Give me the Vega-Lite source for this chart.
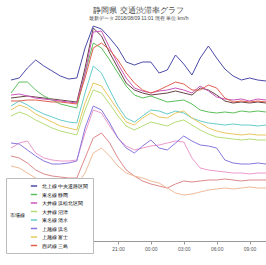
{
  "$schema": "https://vega.github.io/schema/vega-lite/v6.json",
  "width": 255,
  "height": 215,
  "padding": {"left": 5, "top": 6, "right": 6, "bottom": 2},
  "config": {"view": {"stroke": null}},
  "title": {
    "text": "静岡県 交通渋滞率グラフ",
    "subtitle": "最新データ 2018/08/09 11:01 現在 単位:km/h",
    "fontSize": 7.5,
    "fontWeight": "normal",
    "subtitleFontSize": 5,
    "subtitlePadding": 2,
    "color": "#444",
    "subtitleColor": "#444",
    "anchor": "middle",
    "offset": 3
  },
  "data": {"values": [
    {"t": "2018-08-08T11:15", "北上線 中央道路区間": 161, "国道1号 島田": 143, "大井線 浜松北区間": 146, "西武線 三島": 140, "東名線 静岡": 148, "大井線 沼津": 125, "東名線 清水": 135, "上越線 富士": 131, "上越線 浜名": 98, "国道1号 掛川": 93, "国道150号 焼津": 85, "国道150号 磐田": 75},
    {"t": "2018-08-08T12:00", "北上線 中央道路区間": 163, "国道1号 島田": 144, "大井線 浜松北区間": 147, "西武線 三島": 140, "東名線 静岡": 159, "大井線 沼津": 129, "東名線 清水": 140, "上越線 富士": 136, "上越線 浜名": 97, "国道1号 掛川": 98, "国道150号 焼津": 83, "国道150号 磐田": 73},
    {"t": "2018-08-08T12:45", "北上線 中央道路区間": 173, "国道1号 島田": 145, "大井線 浜松北区間": 145, "西武線 三島": 141, "東名線 静岡": 159, "大井線 沼津": 126, "東名線 清水": 136, "上越線 富士": 133, "上越線 浜名": 91, "国道1号 掛川": 100, "国道150号 焼津": 78, "国道150号 磐田": 68},
    {"t": "2018-08-08T13:30", "北上線 中央道路区間": 181, "国道1号 島田": 144, "大井線 浜松北区間": 143, "西武線 三島": 141, "東名線 静岡": 151, "大井線 沼津": 121, "東名線 清水": 131, "上越線 富士": 127, "上越線 浜名": 85, "国道1号 掛川": 88, "国道150号 焼津": 71, "国道150号 磐田": 63},
    {"t": "2018-08-08T14:15", "北上線 中央道路区間": 175, "国道1号 島田": 143, "大井線 浜松北区間": 142, "西武線 三島": 140, "東名線 静岡": 145, "大井線 沼津": 117, "東名線 清水": 127, "上越線 富士": 123, "上越線 浜名": 80, "国道1号 掛川": 83, "国道150号 焼津": 67, "国道150号 磐田": 60},
    {"t": "2018-08-08T15:00", "北上線 中央道路区間": 170, "国道1号 島田": 142, "大井線 浜松北区間": 141, "西武線 三島": 139, "東名線 静岡": 141, "大井線 沼津": 113, "東名線 清水": 124, "上越線 富士": 119, "上越線 浜名": 77, "国道1号 掛川": 81, "国道150号 焼津": 65, "国道150号 磐田": 58},
    {"t": "2018-08-08T15:45", "北上線 中央道路区間": 165, "国道1号 島田": 141, "大井線 浜松北区間": 140, "西武線 三島": 139, "東名線 静岡": 137, "大井線 沼津": 110, "東名線 清水": 121, "上越線 富士": 115, "上越線 浜名": 77, "国道1号 掛川": 80, "国道150号 焼津": 64, "国道150号 磐田": 57},
    {"t": "2018-08-08T16:30", "北上線 中央道路区間": 162, "国道1号 島田": 140, "大井線 浜松北区間": 139, "西武線 三島": 138, "東名線 静岡": 135, "大井線 沼津": 108, "東名線 清水": 119, "上越線 富士": 113, "上越線 浜名": 78, "国道1号 掛川": 80, "国道150号 焼津": 63, "国道150号 磐田": 56},
    {"t": "2018-08-08T17:15", "北上線 中央道路区間": 163, "国道1号 島田": 139, "大井線 浜松北区間": 138, "西武線 三島": 137, "東名線 静岡": 133, "大井線 沼津": 106, "東名線 清水": 118, "上越線 富士": 111, "上越線 浜名": 80, "国道1号 掛川": 81, "国道150号 焼津": 63, "国道150号 磐田": 56},
    {"t": "2018-08-08T18:00", "北上線 中央道路区間": 193, "国道1号 島田": 173, "大井線 浜松北区間": 168, "西武線 三島": 163, "東名線 静岡": 168, "大井線 沼津": 131, "東名線 清水": 148, "上越線 富士": 138, "上越線 浜名": 113, "国道1号 掛川": 108, "国道150号 焼津": 83, "国道150号 磐田": 68},
    {"t": "2018-08-08T18:45", "北上線 中央道路区間": 215, "国道1号 島田": 213, "大井線 浜松北区間": 209, "西武線 三島": 193, "東名線 静岡": 198, "大井線 沼津": 151, "東名線 清水": 175, "上越線 富士": 158, "上越線 浜名": 135, "国道1号 掛川": 131, "国道150号 焼津": 103, "国道150号 磐田": 88},
    {"t": "2018-08-08T19:30", "北上線 中央道路区間": 212, "国道1号 島田": 205, "大井線 浜松北区間": 210, "西武線 三島": 198, "東名線 静岡": 193, "大井線 沼津": 148, "東名線 清水": 168, "上越線 富士": 155, "上越線 浜名": 131, "国道1号 掛川": 128, "国道150号 焼津": 108, "国道150号 磐田": 93},
    {"t": "2018-08-08T20:15", "北上線 中央道路区間": 203, "国道1号 島田": 188, "大井線 浜松北区間": 193, "西武線 三島": 191, "東名線 静岡": 181, "大井線 沼津": 137, "東名線 清水": 151, "上越線 富士": 143, "上越線 浜名": 118, "国道1号 掛川": 115, "国道150号 焼津": 98, "国道150号 磐田": 85},
    {"t": "2018-08-08T21:00", "北上線 中央道路区間": 193, "国道1号 島田": 173, "大井線 浜松北区間": 177, "西武線 三島": 181, "東名線 静岡": 168, "大井線 沼津": 125, "東名線 清水": 135, "上越線 富士": 131, "上越線 浜名": 103, "国道1号 掛川": 103, "国道150号 焼津": 83, "国道150号 磐田": 75},
    {"t": "2018-08-08T21:45", "北上線 中央道路区間": 179, "国道1号 島田": 158, "大井線 浜松北区間": 163, "西武線 三島": 168, "東名線 静岡": 155, "大井線 沼津": 115, "東名線 清水": 123, "上越線 富士": 119, "上越線 浜名": 93, "国道1号 掛川": 95, "国道150号 焼津": 71, "国道150号 磐田": 68},
    {"t": "2018-08-08T22:30", "北上線 中央道路区間": 176, "国道1号 島田": 151, "大井線 浜松北区間": 153, "西武線 三島": 158, "東名線 静岡": 146, "大井線 沼津": 111, "東名線 清水": 119, "上越線 富士": 116, "上越線 浜名": 88, "国道1号 掛川": 91, "国道150号 焼津": 65, "国道150号 磐田": 65},
    {"t": "2018-08-08T23:15", "北上線 中央道路区間": 179, "国道1号 島田": 148, "大井線 浜松北区間": 150, "西武線 三島": 151, "東名線 静岡": 143, "大井線 沼津": 115, "東名線 清水": 125, "上越線 富士": 123, "上越線 浜名": 95, "国道1号 掛川": 93, "国道150号 焼津": 60, "国道150号 磐田": 63},
    {"t": "2018-08-09T00:00", "北上線 中央道路区間": 179, "国道1号 島田": 146, "大井線 浜松北区間": 148, "西武線 三島": 148, "東名線 静岡": 145, "大井線 沼津": 119, "東名線 清水": 131, "上越線 富士": 128, "上越線 浜名": 101, "国道1号 掛川": 95, "国道150号 焼津": 57, "国道150号 磐田": 60},
    {"t": "2018-08-09T00:45", "北上線 中央道路区間": 168, "国道1号 島田": 147, "大井線 浜松北区間": 150, "西武線 三島": 151, "東名線 静岡": 142, "大井線 沼津": 117, "東名線 清水": 130, "上越線 富士": 124, "上越線 浜名": 93, "国道1号 掛川": 96, "国道150号 焼津": 55, "国道150号 磐田": 58},
    {"t": "2018-08-09T01:30", "北上線 中央道路区間": 171, "国道1号 島田": 148, "大井線 浜松北区間": 151, "西武線 三島": 155, "東名線 静岡": 139, "大井線 沼津": 115, "東名線 清水": 127, "上越線 富士": 123, "上越線 浜名": 91, "国道1号 掛川": 98, "国道150号 焼津": 53, "国道150号 磐田": 53},
    {"t": "2018-08-09T02:15", "北上線 中央道路区間": 186, "国道1号 島田": 150, "大井線 浜松北区間": 153, "西武線 三島": 159, "東名線 静岡": 140, "大井線 沼津": 119, "東名線 清水": 130, "上越線 富士": 128, "上越線 浜名": 98, "国道1号 掛川": 100, "国道150号 焼津": 57, "国道150号 磐田": 48},
    {"t": "2018-08-09T03:00", "北上線 中央道路区間": 177, "国道1号 島田": 148, "大井線 浜松北区間": 151, "西武線 三島": 157, "東名線 静岡": 141, "大井線 沼津": 121, "東名線 清水": 128, "上越線 富士": 130, "上越線 浜名": 105, "国道1号 掛川": 99, "国道150号 焼津": 60, "国道150号 磐田": 46},
    {"t": "2018-08-09T03:45", "北上線 中央道路区間": 166, "国道1号 島田": 146, "大井線 浜松北区間": 148, "西武線 三島": 151, "東名線 静岡": 137, "大井線 沼津": 116, "東名線 清水": 123, "上越線 富士": 123, "上越線 浜名": 100, "国道1号 掛川": 83, "国道150号 焼津": 59, "国道150号 磐田": 47},
    {"t": "2018-08-09T04:30", "北上線 中央道路区間": 183, "国道1号 島田": 153, "大井線 浜松北区間": 155, "西武線 三島": 151, "東名線 静岡": 131, "大井線 沼津": 111, "東名線 清水": 120, "上越線 富士": 118, "上越線 浜名": 96, "国道1号 掛川": 73, "国道150号 焼津": 60, "国道150号 磐田": 49},
    {"t": "2018-08-09T05:15", "北上線 中央道路区間": 195, "国道1号 島田": 151, "大井線 浜松北区間": 150, "西武線 三島": 156, "東名線 静岡": 129, "大井線 沼津": 107, "東名線 清水": 118, "上越線 富士": 113, "上越線 浜名": 95, "国道1号 掛川": 71, "国道150号 焼津": 61, "国道150号 磐田": 51},
    {"t": "2018-08-09T06:00", "北上線 中央道路区間": 183, "国道1号 島田": 146, "大井線 浜松北区間": 144, "西武線 三島": 153, "東名線 静岡": 128, "大井線 沼津": 104, "東名線 清水": 117, "上越線 富士": 110, "上越線 浜名": 93, "国道1号 掛川": 70, "国道150号 焼津": 61, "国道150号 磐田": 52},
    {"t": "2018-08-09T06:45", "北上線 中央道路区間": 172, "国道1号 島田": 140, "大井線 浜松北区間": 142, "西武線 三島": 143, "東名線 静岡": 129, "大井線 沼津": 103, "東名線 清水": 116, "上越線 富士": 108, "上越線 浜名": 81, "国道1号 掛川": 69, "国道150号 焼津": 62, "国道150号 磐田": 53},
    {"t": "2018-08-09T07:30", "北上線 中央道路区間": 165, "国道1号 島田": 138, "大井線 浜松北区間": 141, "西武線 三島": 139, "東名線 静岡": 128, "大井線 沼津": 102, "東名線 清水": 117, "上越線 富士": 107, "上越線 浜名": 78, "国道1号 掛川": 68, "国道150号 焼津": 61, "国道150号 磐田": 52},
    {"t": "2018-08-09T08:15", "北上線 中央道路区間": 161, "国道1号 島田": 139, "大井線 浜松北区間": 142, "西武線 三島": 140, "東名線 静岡": 130, "大井線 沼津": 101, "東名線 清水": 116, "上越線 富士": 106, "上越線 浜名": 77, "国道1号 掛川": 68, "国道150号 焼津": 60, "国道150号 磐田": 53},
    {"t": "2018-08-09T09:00", "北上線 中央道路区間": 163, "国道1号 島田": 138, "大井線 浜松北区間": 140, "西武線 三島": 139, "東名線 静岡": 129, "大井線 沼津": 102, "東名線 清水": 116, "上越線 富士": 107, "上越線 浜名": 77, "国道1号 掛川": 67, "国道150号 焼津": 61, "国道150号 磐田": 54},
    {"t": "2018-08-09T09:45", "北上線 中央道路区間": 161, "国道1号 島田": 139, "大井線 浜松北区間": 142, "西武線 三島": 140, "東名線 静岡": 130, "大井線 沼津": 101, "東名線 清水": 115, "上越線 富士": 106, "上越線 浜名": 78, "国道1号 掛川": 68, "国道150号 焼津": 61, "国道150号 磐田": 53},
    {"t": "2018-08-09T10:30", "北上線 中央道路区間": 160, "国道1号 島田": 138, "大井線 浜松北区間": 141, "西武線 三島": 139, "東名線 静岡": 129, "大井線 沼津": 101, "東名線 清水": 116, "上越線 富士": 106, "上越線 浜名": 77, "国道1号 掛川": 68, "国道150号 焼津": 61, "国道150号 磐田": 53}
  ]},
  "transform": [
    {"fold": ["北上線 中央道路区間", "東名線 静岡", "大井線 浜松北区間", "大井線 沼津", "東名線 清水", "上越線 浜名", "上越線 富士", "西武線 三島", "国道1号 島田", "国道1号 掛川", "国道150号 焼津", "国道150号 磐田"], "as": ["sid", "val"]}
  ],
  "encoding": {
    "x": {
      "field": "t", "type": "temporal",
      "axis": {
        "title": null,
        "grid": false,
        "format": "%H:%M",
        "labelFontSize": 5,
        "labelColor": "#555",
        "domainColor": "#999",
        "tickColor": "#999",
        "tickSize": 3,
        "labelPadding": 2
      }
    },
    "y": {"field": "val", "type": "quantitative", "scale": {"domain": [0, 215], "nice": false, "zero": false}, "axis": null}
  },
  "layer": [
    {
      "transform": [{"filter": {"field": "sid", "oneOf": ["国道1号 島田", "国道1号 掛川", "国道150号 焼津", "国道150号 磐田"]}}],
      "mark": {"type": "line", "strokeWidth": 1},
      "encoding": {
        "stroke": {
          "field": "sid", "type": "nominal",
          "scale": {"domain": ["国道1号 島田", "国道1号 掛川", "国道150号 焼津", "国道150号 磐田"], "range": ["#664444", "#ee99cc", "#dd8888", "#eebb99"]},
          "legend": null
        }
      }
    },
    {
      "transform": [{"filter": {"field": "sid", "oneOf": ["北上線 中央道路区間", "東名線 静岡", "大井線 浜松北区間", "大井線 沼津", "東名線 清水", "上越線 浜名", "上越線 富士", "西武線 三島"]}}],
      "mark": {"type": "line", "strokeWidth": 1},
      "encoding": {
        "color": {
          "field": "sid", "type": "nominal",
          "scale": {
            "domain": ["北上線 中央道路区間", "東名線 静岡", "大井線 浜松北区間", "大井線 沼津", "東名線 清水", "上越線 浜名", "上越線 富士", "西武線 三島"],
            "range": ["#4b4ba8", "#5cbf5c", "#cc55bb", "#b5dd77", "#66cccc", "#8877dd", "#e8c860", "#e06050"]
          },
          "legend": {
            "orient": "none",
            "legendX": -5,
            "legendY": 152,
            "title": "市場線",
            "titleOrient": "left",
            "titleFontSize": 5,
            "titleFontWeight": "normal",
            "labelFontSize": 5,
            "symbolType": "stroke",
            "symbolSize": 40,
            "rowPadding": 1.5,
            "padding": 4,
            "fillColor": "white",
            "strokeColor": "#bbbbbb"
          }
        }
      }
    }
  ]
}
